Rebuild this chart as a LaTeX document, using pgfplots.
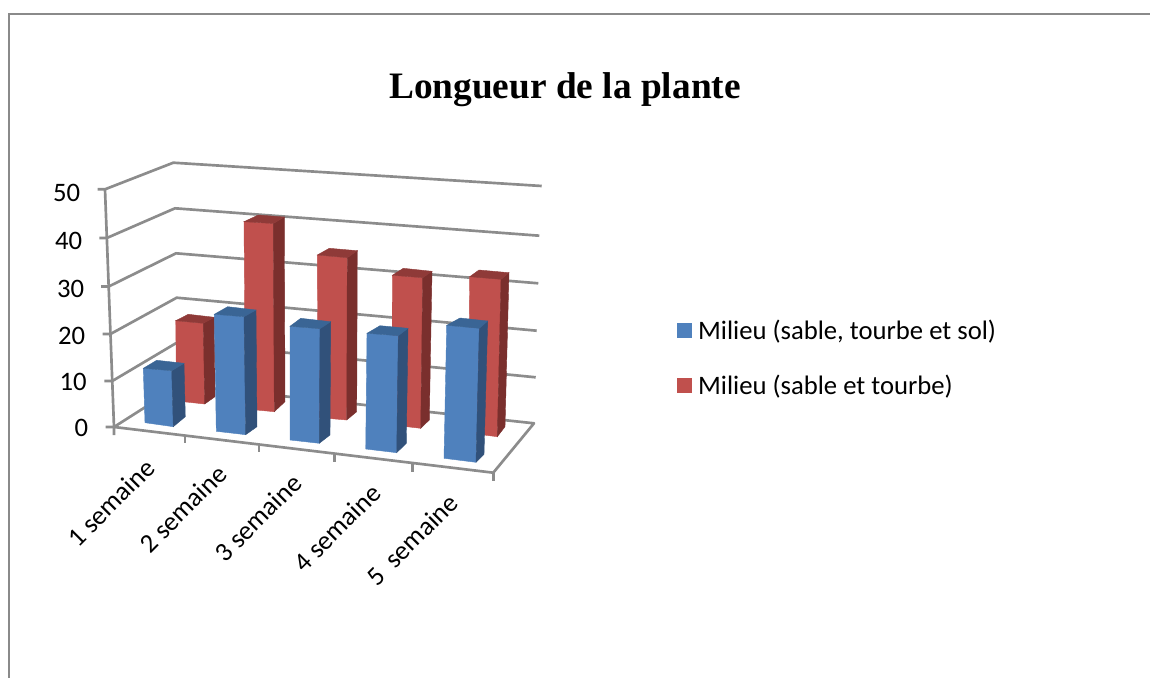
\documentclass[border=0pt]{standalone}
\usepackage{pgfplots}
\pgfplotsset{compat=1.18}
\usepackage{fontspec}
\setmainfont{Carlito}
\newfontfamily\titlefont{Liberation Serif}
\definecolor{gridc}{HTML}{8C8C8C}
\definecolor{frameC}{HTML}{8A8A8A}
\definecolor{bfront}{HTML}{4F81BD}
\definecolor{bside}{HTML}{31517A}
\definecolor{btop}{HTML}{3A6595}
\definecolor{rfront}{HTML}{C0504D}
\definecolor{rside}{HTML}{7A2F2D}
\definecolor{rtop}{HTML}{8F3A38}
% one 3D-looking bar: front face, side face, top face, as projected in the picture
\newcommand{\threedbar}[6]{%
  \addplot[forget plot,fill=#1,draw=#1,line width=0.3pt] coordinates {#4} --cycle;
  \addplot[forget plot,fill=#2,draw=#2,line width=0.3pt] coordinates {#5} --cycle;
  \addplot[forget plot,fill=#3,draw=#3,line width=0.3pt] coordinates {#6} --cycle;
}
\newcommand{\gridl}[1]{\addplot[forget plot,draw=gridc,line width=2pt,line join=round] coordinates {#1};}
\begin{document}
\begin{tikzpicture}
\begin{axis}[
  scale only axis, width=862.5pt, height=508.5pt,
  xmin=0, xmax=1150, ymin=0, ymax=678, y dir=reverse,
  hide axis, clip=false, no markers,
  legend style={draw=none,fill=none,at={(axis cs:677,358)},anchor=west,
    font=\fontsize{20}{22}\selectfont,row sep=21.5pt,
    legend cell align=left,inner sep=0pt},
  legend image code/.code={\fill[#1,draw=none] (0cm,-5.6pt) rectangle (11.4pt,5.6pt);\fill[white,draw=none] (11.4pt,-1pt) rectangle (13.65pt,1pt);},
]
% chart frame
\addplot[forget plot,draw=frameC,line width=1.5pt] coordinates {(8.5,678) (8.5,13.5) (1150,13.5)};
% gridlines: tick, left wall, back wall, for 50 ... 10
\gridl{(97.7,189.3)(105,189.3)(173.3,162.7)(541.7,186)}
\gridl{(99.3,238)(106.8,238)(175,208.3)(539.3,235.7)}
\gridl{(101,286.5)(108.7,286.5)(176,253.3)(538.3,283.3)}
\gridl{(102.7,334)(110.5,334)(176.7,297.7)(536.7,330.7)}
\gridl{(104.3,381)(112.3,381)(178,342)(535.7,377.3)}
% floor, zero tick
\gridl{(105.7,427)(114,427)(180,385)(534,423.3)(493.3,472.7)(114,427)}
% vertical axis
\gridl{(105,189.3)(114,427)(114,435)}
% front ticks
\gridl{(185,436)(185,443)}
\gridl{(259,445)(259,452)}
\gridl{(334.7,454)(334.7,462)}
\gridl{(412.7,463)(412.7,472)}
\gridl{(493.3,472.7)(493.3,481)}
% back row: Milieu (sable et tourbe)
\threedbar{rfront}{rside}{rtop}
 {(175.7,320.7)(203.3,323.3)(204.7,404)(176.7,401)}
 {(203.3,323.3)(214.3,317.3)(215,396.7)(204.7,404)}
 {(175.7,320.7)(188.3,314.3)(214.3,317.3)(203.3,323.3)}
\threedbar{rfront}{rside}{rtop}
 {(244,221.7)(273.3,223.5)(274.3,411.7)(245.5,409)}
 {(273.3,223.5)(284.3,217)(285,401.7)(274.3,411.7)}
 {(244,221.7)(258.3,215)(284.3,217)(273.3,223.5)}
\threedbar{rfront}{rside}{rtop}
 {(317.3,255)(347.3,257.7)(346.7,420)(318,417.5)}
 {(347.3,257.7)(357.3,250.7)(356.7,411.7)(346.7,420)}
 {(317.3,255)(329.3,248.3)(357.3,250.7)(347.3,257.7)}
\threedbar{rfront}{rside}{rtop}
 {(392.3,275.3)(422.7,277.7)(420.7,428.3)(392,425)}
 {(422.7,277.7)(432,271.3)(429.3,420)(420.7,428.3)}
 {(392.3,275.3)(403.3,268.3)(432,271.3)(422.7,277.7)}
\threedbar{rfront}{rside}{rtop}
 {(469.7,276.7)(501,279.3)(497.3,436.7)(468,433)}
 {(501,279.3)(509,272.7)(505,426.7)(497.3,436.7)}
 {(469.7,276.7)(479,270)(509,272.7)(501,279.3)}
% front row: Milieu (sable, tourbe et sol)
\threedbar{bfront}{bside}{btop}
 {(143.3,368.3)(171.7,370.7)(173.3,426.7)(145,422.7)}
 {(171.7,370.7)(184,363.3)(185.3,416.7)(173.3,426.7)}
 {(143.3,368.3)(156.7,360.3)(184,363.3)(171.7,370.7)}
\threedbar{bfront}{bside}{btop}
 {(214.3,314.3)(244,316.7)(245.7,434.7)(216.3,431.3)}
 {(244,316.7)(256,310)(257,426.7)(245.7,434.7)}
 {(214.3,314.3)(227.7,306.7)(256,310)(244,316.7)}
\threedbar{bfront}{bside}{btop}
 {(290,326.3)(320,328.7)(319.3,443.3)(290,440)}
 {(320,328.7)(330.7,321.7)(330,435)(319.3,443.3)}
 {(290,326.3)(300.7,318.3)(330.7,321.7)(320,328.7)}
\threedbar{bfront}{bside}{btop}
 {(367,333.3)(398.3,335.7)(396.7,452.7)(365.7,449)}
 {(398.3,335.7)(408,328.3)(406.3,443.3)(396.7,452.7)}
 {(367,333.3)(380,325.7)(408,328.3)(398.3,335.7)}
\threedbar{bfront}{bside}{btop}
 {(446.7,325.3)(479.3,328.3)(476,462.3)(444,458.3)}
 {(479.3,328.3)(487.7,321)(484,454.3)(476,462.3)}
 {(446.7,325.3)(460,318)(487.7,321)(479.3,328.3)}
% texts
\node[font=\titlefont\bfseries\fontsize{28}{30}\selectfont] at (axis cs:565,90) {Longueur de la plante};
\begin{scope}[every node/.style={font=\fontsize{20}{22}\selectfont,anchor=east,inner sep=0pt}]
\node at (axis cs:80.5,192.5) {50};
\node at (axis cs:82.5,240.5) {40};
\node at (axis cs:84.5,288.5) {30};
\node at (axis cs:85.5,335.5) {20};
\node at (axis cs:87,381.5) {10};
\node at (axis cs:88.5,427.5) {0};
\end{scope}
\begin{scope}[every node/.style={font=\fontsize{20}{22}\selectfont,rotate=45,inner sep=0pt}]
\node at (axis cs:111,503) {1 semaine};
\node at (axis cs:183,509) {2 semaine};
\node at (axis cs:258,518) {3 semaine};
\node at (axis cs:337,528) {4 semaine};
\node at (axis cs:412,540) {5\ \ semaine};
\end{scope}
\addlegendimage{bfront}\addlegendentry{Milieu (sable, tourbe et sol)}
\addlegendimage{rfront}\addlegendentry{Milieu (sable et tourbe)}
\end{axis}
\pgfresetboundingbox
\path[use as bounding box] (0,0) rectangle (862.5pt,508.5pt);
\end{tikzpicture}
\end{document}
